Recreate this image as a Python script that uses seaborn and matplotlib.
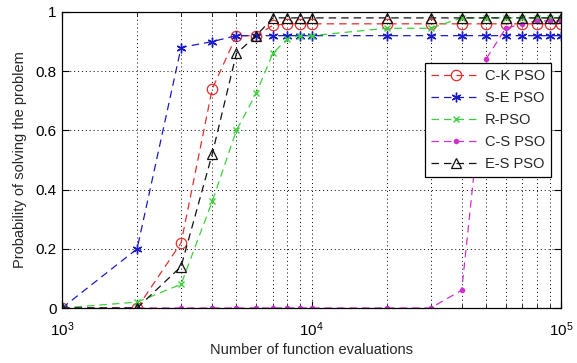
import matplotlib
matplotlib.use("Agg")
import matplotlib.pyplot as plt
import matplotlib.ticker as mticker
import seaborn as sns

# Function-evaluation budgets (x) and success probability per algorithm
evals = [1000, 2000, 3000, 4000, 5000, 6000, 7000, 8000, 9000, 10000,
         20000, 30000, 40000, 50000, 60000, 70000, 80000, 90000, 100000]

ck_pso = [0, 0, 0.22, 0.74, 0.92, 0.92, 0.955, 0.96, 0.96, 0.96,
          0.96, 0.96, 0.96, 0.96, 0.96, 0.96, 0.96, 0.96, 0.96]
se_pso = [0, 0.20, 0.88, 0.90, 0.92, 0.92, 0.92, 0.92, 0.92, 0.92,
          0.92, 0.92, 0.92, 0.92, 0.92, 0.92, 0.92, 0.92, 0.92]
r_pso = [0, 0.02, 0.08, 0.36, 0.60, 0.725, 0.86, 0.91, 0.92, 0.92,
         0.945, 0.945, 0.98, 0.98, 0.98, 0.98, 0.98, 0.98, 0.98]
cs_pso = [0, 0, 0, 0, 0, 0, 0, 0, 0, 0,
          0, 0, 0.06, 0.84, 0.945, 0.96, 0.97, 0.97, 0.97]
es_pso = [0, 0, 0.14, 0.52, 0.86, 0.92, 0.98, 0.98, 0.98, 0.98,
          0.98, 0.98, 0.98, 0.98, 0.98, 0.98, 0.98, 0.98, 0.98]

labels = ["C-K PSO", "S-E PSO", "R-PSO", "C-S PSO", "E-S PSO"]
y_ticks = [0, 0.2, 0.4, 0.6, 0.8, 1]

sns.set_style("ticks")
plt.rcParams["font.family"] = ["Liberation Sans", "DejaVu Sans"]
plt.rcParams["mathtext.fontset"] = "custom"
plt.rcParams["mathtext.rm"] = "Liberation Sans"
plt.rcParams["mathtext.it"] = "Liberation Sans"

fig = plt.figure(figsize=(5.77, 3.63), dpi=100)
ax = fig.add_axes([0.1075, 0.1515, 0.8648, 0.8155])

series = [
    (ck_pso, "#e0302c", "o", 7.5, 0.9),
    (se_pso, "#1a1ac8", (6, 2, 0), 7, 1.0),
    (r_pso, "#3ad23a", "x", 5, 1.0),
    (cs_pso, "#d030d0", ".", 6, 1.0),
    (es_pso, "#111111", "^", 7.5, 0.9),
]

for (vals, col, mk, ms, mew), lab in zip(series, labels):
    sns.lineplot(x=evals, y=vals, ax=ax, color=col, marker=mk, ms=ms,
                 mfc="none" if mk in ("o", "^") else col, mec=col, mew=mew,
                 linestyle=(0, (6, 4)), linewidth=0.9, label=lab)

ax.set_xscale("log")
ax.set_xlim(1000, 100000)
ax.set_ylim(0, 1)
ax.set_yticks(y_ticks)
ax.yaxis.set_major_formatter(mticker.FuncFormatter(lambda v, p: f"{v:g}"))
ax.xaxis.set_major_locator(mticker.LogLocator(base=10, numticks=10))
ax.xaxis.set_minor_locator(mticker.LogLocator(base=10, subs=range(2, 10), numticks=20))
ax.xaxis.set_minor_formatter(mticker.NullFormatter())

ax.grid(which="both", axis="x", linestyle=(0, (1, 3)), color="k", linewidth=0.7)
ax.grid(which="major", axis="y", linestyle=(0, (1, 3)), color="k", linewidth=0.7)

ax.tick_params(which="both", direction="in", top=True, right=True,
               labelsize=11, colors="k")
ax.tick_params(which="major", length=5)
ax.tick_params(axis="y", which="major", pad=4)
ax.tick_params(axis="x", which="major", pad=9)
ax.tick_params(which="minor", length=3)
for sp in ax.spines.values():
    sp.set_color("k")
    sp.set_linewidth(0.9)

ax.set_xlabel("Number of function evaluations", fontsize=10.5, labelpad=3)
ax.set_ylabel("Probability of solving the problem", fontsize=10.5, labelpad=6)

leg = ax.legend(loc="upper right", bbox_to_anchor=(0.98, 0.828), fontsize=10.5,
                frameon=True, fancybox=False, framealpha=1, edgecolor="k",
                handlelength=3.4, labelspacing=0.55, borderpad=0.4,
                handletextpad=0.3, borderaxespad=0)
leg.get_frame().set_linewidth(0.9)

fig.savefig("out.png", dpi=100)
